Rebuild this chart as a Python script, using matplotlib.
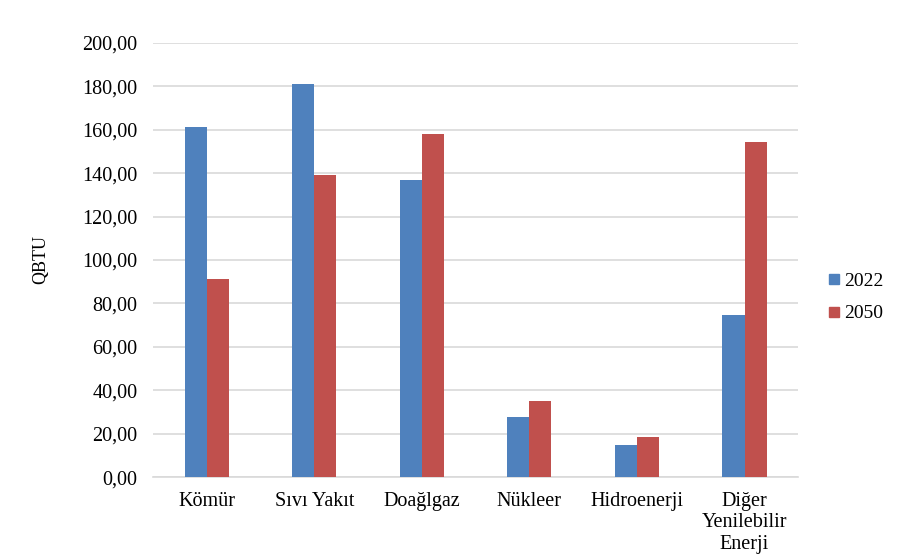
import matplotlib
matplotlib.use('Agg')
from matplotlib import pyplot as plt
from matplotlib.lines import Line2D
import numpy as np

# Enerji kaynaklarına göre tüketim (QBTU)
kaynaklar = ['Kömür', 'Sıvı Yakıt', 'Doağlgaz', 'Nükleer', 'Hidroenerji', 'Diğer\nYenilebilir\nEnerji']
y2022 = [161, 181, 137, 27.6, 14.8, 74.8]
y2050 = [91, 139, 158, 35, 18.6, 154.3]

plt.rcParams['font.family'] = ['Liberation Serif', 'DejaVu Serif']

fig = plt.figure(figsize=(8.99, 5.56), dpi=100)
ax = fig.add_axes([0.170, 0.142, 0.718, 0.781])

x = np.arange(len(kaynaklar))
w = 0.205
ax.bar(x - w / 2, y2022, w, color='#4F81BD', zorder=3)
ax.bar(x + w / 2, y2050, w, color='#C0504D', zorder=3)

ax.set_xlim(-0.5, len(kaynaklar) - 0.5)
ax.set_ylim(0, 200)
ax.set_yticks(np.arange(0, 201, 20))
ax.set_yticklabels(['{:.2f}'.format(v).replace('.', ',') for v in np.arange(0, 201, 20)])
ax.set_xticks(x)
ax.set_xticklabels(kaynaklar, linespacing=1.15)
ax.tick_params(length=0, labelsize=14.5, colors='black')
ax.tick_params(axis='y', pad=11)
ax.tick_params(axis='x', pad=11)

ax.grid(axis='y', color='#D9D9D9', linewidth=1.2, zorder=0)
for s in ['top', 'right', 'left']:
    ax.spines[s].set_visible(False)
ax.spines['bottom'].set_color('#D9D9D9')
ax.spines['bottom'].set_linewidth(1.2)

ax.set_ylabel('QBTU', fontsize=13)
ax.yaxis.set_label_coords(-0.16, 0.5)

handles = [Line2D([], [], marker='s', linestyle='', color='#4F81BD', markersize=7),
           Line2D([], [], marker='s', linestyle='', color='#C0504D', markersize=7)]
fig.legend(handles, ['2022', '2050'], loc='center left', bbox_to_anchor=(0.897, 0.465),
           frameon=False, fontsize=14, handletextpad=0.05, labelspacing=0.75, handlelength=1)

fig.savefig('out.png', dpi=100)
